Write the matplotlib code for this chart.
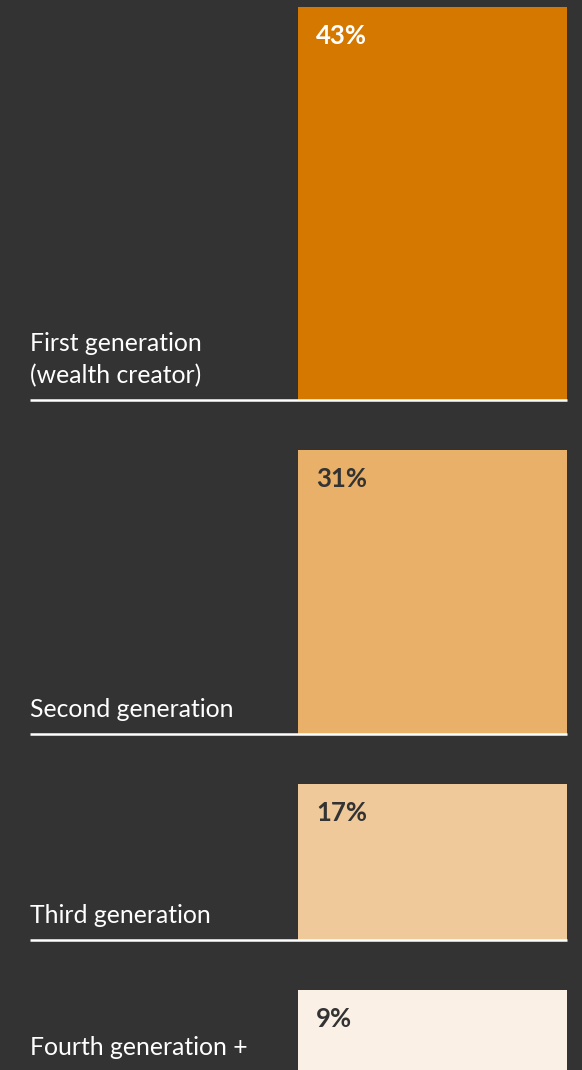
import matplotlib
matplotlib.use("Agg")
import matplotlib.pyplot as plt

# share of wealth by generation
labels = ["First generation\n(wealth creator)", "Second generation",
          "Third generation", "Fourth generation +"]
values = [43, 31, 17, 9]
colors = ["#d57800", "#e8b068", "#efc99a", "#faf0e6"]
value_colors = ["#ffffff", "#333333", "#333333", "#333333"]

BG = "#333333"
PX = 9.15  # pixels per percentage point
W, H = 582, 1070

fig = plt.figure(figsize=(W / 100, H / 100), dpi=100, facecolor=BG)
ax = fig.add_axes([0, 0, 1, 1])
ax.set_facecolor(BG)
ax.set_xlim(0, W)
ax.set_ylim(-H / PX, 0)
ax.axis("off")

font = ["Lato", "DejaVu Sans"]
top = -7 / PX
gap = 50 / PX
for lab, v, c, tc in zip(labels, values, colors, value_colors):
    bottom = top - v
    ax.bar(298, v, bottom=bottom, width=269, align="edge", color=c, linewidth=0)
    ax.plot([30, 567], [bottom, bottom], color="white", lw=1.8,
            solid_capstyle="butt")
    ax.text(316, top - 37 / PX, f"{v}%", color=tc, fontsize=18.5,
            fontweight="bold", family=font, va="baseline", ha="left")
    ax.text(30, bottom + 13 / PX, lab, color="white", fontsize=17.8,
            family=font, va="bottom", ha="left", linespacing=1.45)
    top = bottom - gap

fig.savefig("out.png", dpi=100, facecolor=BG)
